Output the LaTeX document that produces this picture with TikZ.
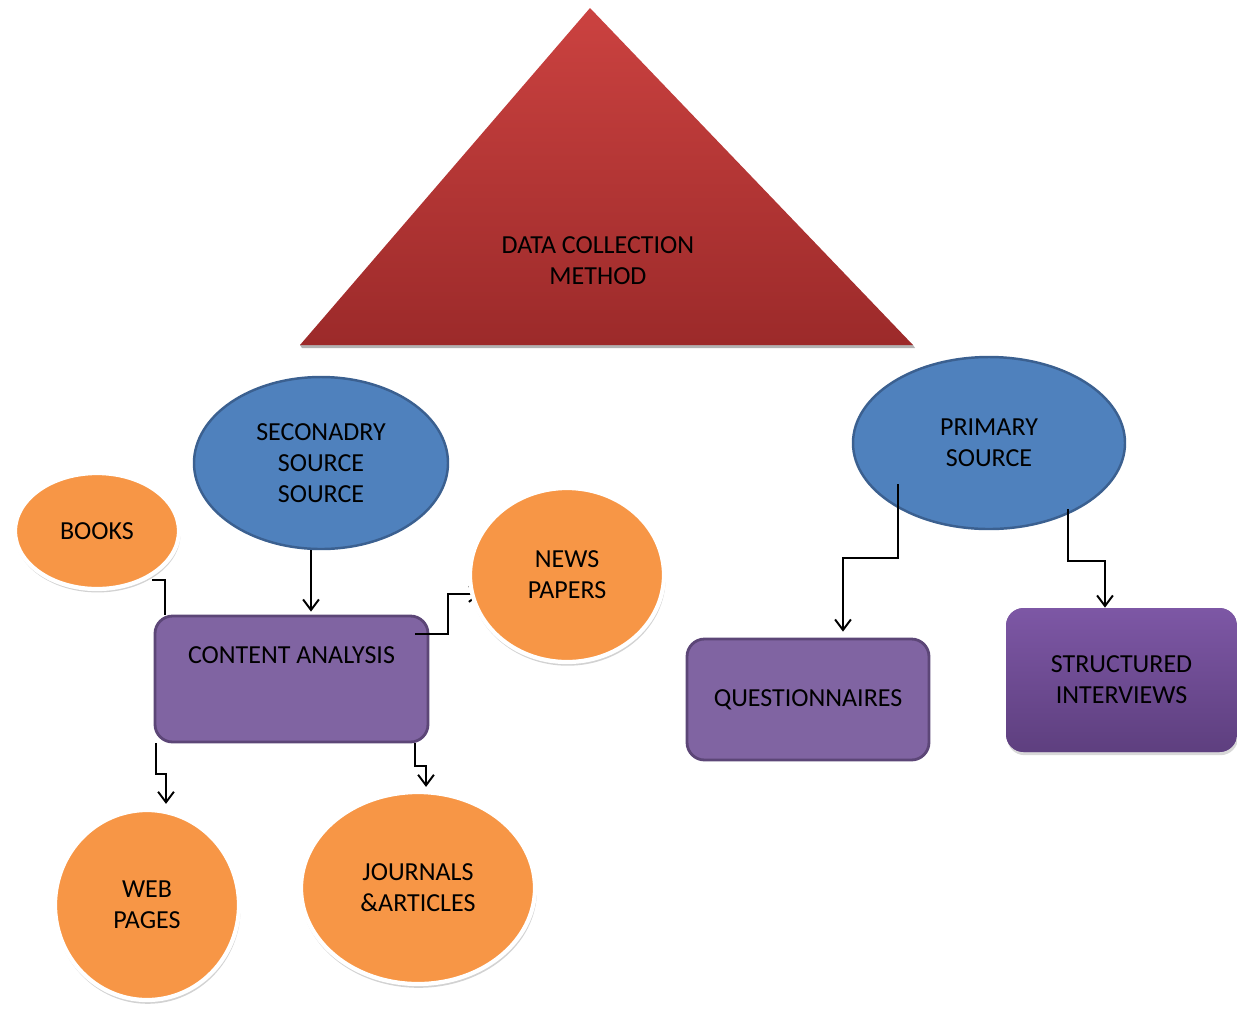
\documentclass[tikz,border=0pt]{standalone}
\usepackage{fontspec}
\setmainfont{Carlito}
\definecolor{tribrick}{HTML}{CB4240}
\definecolor{tribrickdark}{HTML}{9C2A2A}
\definecolor{srcblue}{HTML}{4F81BD}
\definecolor{srcblueline}{HTML}{3B6090}
\definecolor{leaforange}{HTML}{F79646}
\definecolor{boxpurple}{HTML}{8064A2}
\definecolor{boxpurpleline}{HTML}{5C4677}
\definecolor{boxpurpletop}{HTML}{7D57A5}
\definecolor{boxpurplebot}{HTML}{5E3F7F}
\usetikzlibrary{shapes.geometric,arrows.meta,positioning,calc,shadows}

\begin{document}
\begin{tikzpicture}[x=0.02cm,y=-0.02cm,
  every node/.style={font=\fontsize{14.8}{17.6}\selectfont,align=center,inner sep=0pt},
  srcnode/.style={ellipse,fill=srcblue,draw=srcblueline,line width=1.4pt},
  leafnode/.style={ellipse,fill=leaforange,draw=white,line width=2.4pt,
    drop shadow={shadow xshift=0.4pt,shadow yshift=-1.6pt,shadow scale=1.01,fill=black!35}},
  boxnode/.style={rectangle,rounded corners=10pt,fill=boxpurple,draw=boxpurpleline,line width=1.6pt},
  conn/.style={line width=1.1pt,-{Straight Barb[length=6pt,width=9pt,line width=1.1pt]}},
  plainconn/.style={line width=1.1pt}]
\useasboundingbox (0,0) rectangle (1237,1009);

% top triangle
\coordinate (apex) at (590,8);
\coordinate (baseL) at (300,345);
\coordinate (baseR) at (913,345);
\fill[black!30] ($(baseL)+(2,3)$) -- ($(baseR)+(2,3)$) -- (baseR) -- (baseL) -- cycle;
\shade[top color=tribrick,bottom color=tribrickdark] (apex) -- (baseR) -- (baseL) -- cycle;
\node (method) at (598,261) {DATA COLLECTION\\METHOD};

% sources
\node[srcnode,minimum width=254*0.02cm,minimum height=172*0.02cm] (sec) at (321,463) {SECONADRY\\SOURCE\\SOURCE};
\node[srcnode,minimum width=272*0.02cm,minimum height=172*0.02cm] (prim) at (989,443) {PRIMARY\\SOURCE};

% boxes
\node[boxnode,minimum width=273*0.02cm,minimum height=126*0.02cm] (cont) at (291.5,679) {};
\node (conttext) at ($(cont.north)+(0,41)$) {CONTENT ANALYSIS};
\node[boxnode,minimum width=242*0.02cm,minimum height=121*0.02cm] (quest) at (808,699.5) {QUESTIONNAIRES};
\node[boxnode,draw=none,top color=boxpurpletop,bottom color=boxpurplebot,
  drop shadow={shadow xshift=0.6pt,shadow yshift=-1.8pt,fill=black!30},
  minimum width=231*0.02cm,minimum height=144*0.02cm] (struct) at (1121.5,680) {STRUCTURED\\INTERVIEWS};

% connectors hidden under the leaves
\coordinate (booksc) at (97,531);
\coordinate (newsc) at (567,575);
\draw[plainconn] ($(cont.north west)+(11,0)$) |- ($(booksc)+(55,49)$);
\draw[conn] ($(cont.north east)+(-14,19)$) -- ++(33,0) |- ($(newsc)+(-86,19)$);

% leaves
\node[leafnode,minimum width=164*0.02cm,minimum height=116*0.02cm] (books) at (booksc) {BOOKS};
\node[leafnode,minimum width=194*0.02cm,minimum height=174*0.02cm] (news) at (newsc) {NEWS\\PAPERS};
\node[leafnode,minimum width=184*0.02cm,minimum height=190*0.02cm] (web) at (147,905) {WEB\\PAGES};
\node[leafnode,minimum width=234*0.02cm,minimum height=192*0.02cm] (jour) at (418,888) {JOURNALS\\\&ARTICLES};

% connectors
\draw[conn] ($(sec.south)+(-10,0)$) -- ($(cont.north)+(19.5,-3)$);
\draw[conn] ($(cont.south west)+(2,0)$) -- ++(0,31) -| ($(web.north)+(19,-4)$);
\draw[conn] ($(cont.south east)+(-14,0)$) -- ++(0,23) -| ($(jour.north)+(8,-3)$);
\draw[conn] ($(prim.center)+(-91,41)$) -- ++(0,74) -| ($(quest.north)+(35,-6)$);
\draw[conn] ($(prim.center)+(79,66)$) -- ++(0,52) -| ($(struct.north)+(-16.5,1)$);
\end{tikzpicture}
\end{document}
